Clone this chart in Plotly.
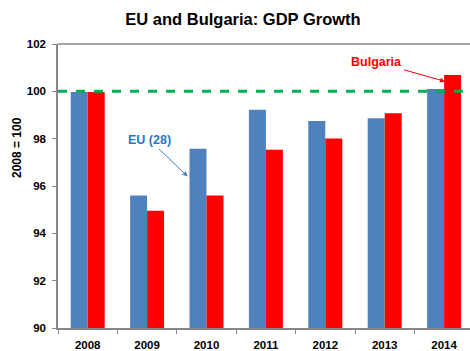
import plotly.graph_objects as go

years = ["2008", "2009", "2010", "2011", "2012", "2013", "2014"]
eu28 = [99.97, 95.6, 97.57, 99.22, 98.75, 98.86, 100.1]
bulgaria = [99.97, 94.95, 95.6, 97.53, 98.01, 99.07, 100.69]
y_ticks = [90, 92, 94, 96, 98, 100, 102]

BLUE = "#4f81bd"
RED = "#ff0000"
GREEN = "#00b050"
AXIS = "#868686"
FONT = "Liberation Sans, Arial, sans-serif"

W, H = 470, 351
M_L, M_R, M_T, M_B = 58, 0, 44, 23
PW, PH = W - M_L - M_R, H - M_T - M_B


def to_paper(px, py):
    """Convert page pixel position to paper coordinates."""
    return (px - M_L) / PW, 1 - (py - M_T) / PH


fig = go.Figure()
fig.add_trace(go.Bar(x=years, y=eu28, name="EU (28)", marker=dict(color=BLUE, line=dict(width=0))))
fig.add_trace(go.Bar(x=years, y=bulgaria, name="Bulgaria", marker=dict(color=RED, line=dict(width=0))))

# 2008 baseline reference
fig.add_shape(type="line", xref="paper", yref="y", x0=0, x1=1, y0=100, y1=100,
              line=dict(color=GREEN, width=3, dash="dash"), layer="above")

# top border of the plot area
fig.add_shape(type="line", xref="paper", yref="paper", x0=0, x1=1, y0=1, y1=1,
              line=dict(color=AXIS, width=1.5))

# series labels with pointer arrows (x given as category index)
fig.add_annotation(x=1.683, y=96.4, xref="x", yref="y",
                   text="<b>EU (28)</b>", showarrow=True, ax=-37.7, ay=-36.2,
                   arrowhead=2, arrowsize=1, arrowwidth=1, arrowcolor="#4a7ebb", standoff=0,
                   font=dict(color="#1f7ac8", size=12.5, family=FONT))
fig.add_annotation(x=6.015, y=100.42, xref="x", yref="y",
                   text="<b>Bulgaria</b>", showarrow=True, ax=-68, ay=-19.2,
                   arrowhead=2, arrowsize=1, arrowwidth=1, arrowcolor=RED, standoff=0,
                   font=dict(color=RED, size=12.5, family=FONT))

# y axis title
tx, ty = to_paper(17, 148)
fig.add_annotation(x=tx, y=ty, xref="paper", yref="paper", xanchor="center", yanchor="middle",
                   text="<b>2008 = 100</b>", textangle=-90, showarrow=False,
                   font=dict(size=12, family=FONT, color="black"))

fig.update_layout(
    width=W, height=H,
    margin=dict(l=M_L, r=M_R, t=M_T, b=M_B, pad=0),
    paper_bgcolor="white", plot_bgcolor="white",
    barmode="group", bargap=0.428, bargroupgap=0,
    showlegend=False,
    font=dict(family=FONT, color="black"),
    title=dict(text="<b>EU and Bulgaria: GDP Growth</b>", x=243 / W, xref="container", xanchor="center",
               y=1 - 19.5 / H, yanchor="middle", font=dict(size=16.5, family=FONT)),
)
fig.update_xaxes(
    type="category", range=[-0.5, 6.436],
    tickvals=years, ticktext=[f"<b>{y}</b>" for y in years],
    showline=True, linecolor=AXIS, linewidth=1.5,
    ticks="outside", tickson="boundaries", ticklen=4, tickcolor=AXIS,
    ticklabelstandoff=5,
    tickfont=dict(size=11.5, family=FONT, color="black"),
    showgrid=False, automargin=False,
)
fig.update_yaxes(
    range=[90, 102], tickvals=y_ticks, ticktext=[f"<b>{v}</b>" for v in y_ticks],
    showline=True, linecolor=AXIS, linewidth=1.5,
    ticks="outside", ticklen=4, tickcolor=AXIS,
    ticklabelstandoff=4,
    tickfont=dict(size=11.5, family=FONT, color="black"),
    showgrid=False, zeroline=False, automargin=False,
)

fig.write_html("out.html")
